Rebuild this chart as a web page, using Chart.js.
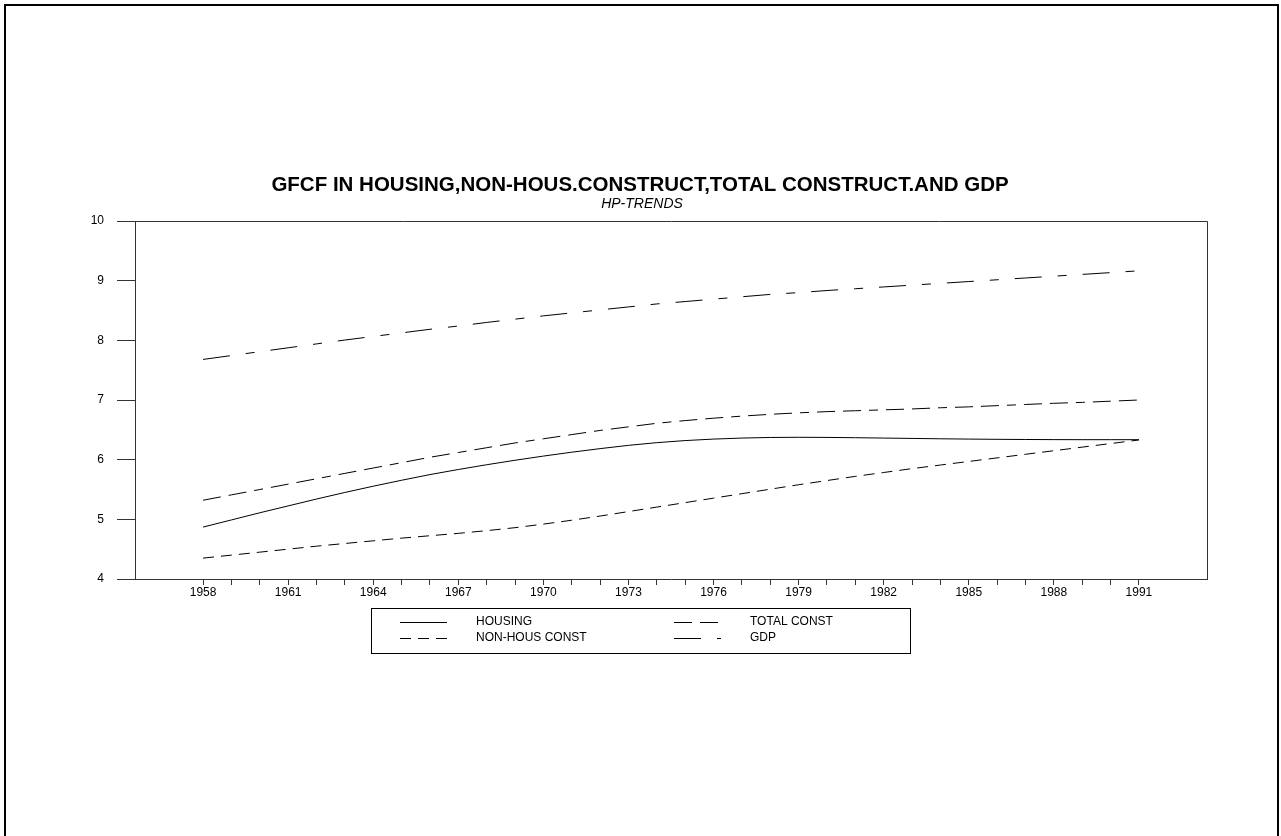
<!DOCTYPE html>
<html lang="en">
<head>
  <meta charset="UTF-8">
  <title>GFCF HP-Trends</title>
  <script src="https://cdn.jsdelivr.net/npm/chart.js"></script>
  <style>
    body { margin: 0; background: #fff; }
    canvas { display: block; }
  </style>
</head>
<body>
  <canvas id="trendChart" width="1281" height="836"></canvas>
  <script>
    const FONT = 'Arial, "Liberation Sans", sans-serif';

    const years = [];
    for (let y = 1958; y <= 1991; y++) years.push(y);

    const housing = [
      4.87, 4.99, 5.11, 5.225, 5.34, 5.45, 5.555, 5.655, 5.75, 5.835,
      5.915, 5.99, 6.06, 6.125, 6.185, 6.24, 6.285, 6.32, 6.345, 6.362,
      6.372, 6.375, 6.373, 6.368, 6.362, 6.356, 6.35, 6.345, 6.341, 6.338,
      6.336, 6.335, 6.335, 6.335
    ];
    const nonHous = [
      4.35, 4.40, 4.45, 4.50, 4.55, 4.595, 4.64, 4.685, 4.725, 4.765,
      4.81, 4.86, 4.92, 4.985, 5.055, 5.13, 5.205, 5.28, 5.355, 5.43,
      5.505, 5.58, 5.65, 5.72, 5.785, 5.85, 5.91, 5.97, 6.03, 6.09,
      6.15, 6.21, 6.27, 6.33
    ];
    const totalConst = [
      5.32, 5.41, 5.50, 5.59, 5.68, 5.77, 5.86, 5.95, 6.04, 6.12,
      6.20, 6.28, 6.35, 6.42, 6.49, 6.55, 6.61, 6.655, 6.695, 6.73,
      6.76, 6.785, 6.805, 6.82, 6.835, 6.85, 6.87, 6.885, 6.905, 6.925,
      6.945, 6.96, 6.98, 7.00
    ];
    const gdp = [
      7.68, 7.745, 7.81, 7.875, 7.94, 8.005, 8.065, 8.125, 8.185, 8.24,
      8.30, 8.355, 8.41, 8.46, 8.51, 8.56, 8.61, 8.65, 8.69, 8.73,
      8.77, 8.80, 8.835, 8.865, 8.895, 8.925, 8.955, 8.985, 9.015, 9.045,
      9.075, 9.105, 9.135, 9.165
    ];

    const seriesNames = ['HOUSING', 'NON-HOUS CONST', 'TOTAL CONST', 'GDP'];
    const seriesValues = [housing, nonHous, totalConst, gdp];
    const seriesDash = [[], [11, 7], [18, 8, 18, 8, 9, 8], [27, 16, 9, 16]];

    const toPoints = vals => vals.map((v, i) => ({ x: years[i], y: v }));

    // frame, outer border, title block and the boxed legend
    const decor = {
      id: 'decor',
      afterDraw(chart) {
        const ctx = chart.ctx;
        const a = chart.chartArea;
        ctx.save();
        ctx.strokeStyle = '#000';
        ctx.lineWidth = 2;
        ctx.strokeRect(5, 5, 1273, 1000);

        ctx.lineWidth = 1;
        ctx.strokeStyle = '#333';
        ctx.beginPath();
        ctx.moveTo(Math.round(a.left) + 0.5, Math.round(a.top) + 0.5);
        ctx.lineTo(Math.round(a.right) + 0.5, Math.round(a.top) + 0.5);
        ctx.lineTo(Math.round(a.right) + 0.5, Math.round(a.bottom) + 0.5);
        ctx.stroke();

        ctx.fillStyle = '#000';
        ctx.textAlign = 'center';
        ctx.textBaseline = 'middle';
        ctx.font = 'bold 20.5px ' + FONT;
        ctx.fillText('GFCF IN HOUSING,NON-HOUS.CONSTRUCT,TOTAL CONSTRUCT.AND GDP', 640, 185);
        ctx.font = 'italic 14px ' + FONT;
        ctx.fillText('HP-TRENDS', 642, 204);

        // legend
        ctx.strokeStyle = '#000';
        ctx.strokeRect(371.5, 608.5, 539, 45);
        const colSample = [400, 674];
        const colText = [476, 750];
        const rowY = [622, 638];
        ctx.font = '12px ' + FONT;
        ctx.textAlign = 'left';
        chart.data.datasets.forEach((ds, i) => {
          const col = Math.floor(i / 2);
          const row = i % 2;
          const y = rowY[row] + 0.5;
          ctx.setLineDash(ds.borderDash);
          ctx.beginPath();
          ctx.moveTo(colSample[col], y);
          ctx.lineTo(colSample[col] + 47, y);
          ctx.stroke();
          ctx.setLineDash([]);
          ctx.fillText(ds.label, colText[col], rowY[row]);
        });
        ctx.restore();
      }
    };

    new Chart(document.getElementById('trendChart'), {
      type: 'line',
      data: {
        datasets: seriesNames.map((name, i) => ({
          label: name,
          data: toPoints(seriesValues[i]),
          borderColor: '#000',
          borderWidth: 1,
          borderDash: seriesDash[i],
          pointRadius: 0,
          tension: 0,
          fill: false
        }))
      },
      options: {
        responsive: false,
        animation: false,
        layout: { padding: { top: 221, right: 74, left: 0, bottom: 0 } },
        plugins: {
          legend: { display: false },
          title: { display: false },
          tooltip: { enabled: false }
        },
        scales: {
          x: {
            type: 'linear',
            min: 1955.6,
            max: 1993.4,
            afterBuildTicks: s => { s.ticks = years.map(v => ({ value: v })); },
            afterFit: s => { s.height = 257; },
            ticks: {
              autoSkip: false,
              maxRotation: 0,
              padding: 0,
              color: '#000',
              font: { family: FONT, size: 12 },
              callback: v => ((v - 1958) % 3 === 0 ? String(v) : '')
            },
            grid: { drawOnChartArea: false, drawTicks: true, tickLength: 6, color: '#333' },
            border: { color: '#333', width: 1 }
          },
          y: {
            min: 4,
            max: 10,
            afterFit: s => { s.width = 135; },
            ticks: {
              stepSize: 1,
              padding: 13,
              color: '#000',
              font: { family: FONT, size: 12 }
            },
            grid: { drawOnChartArea: false, drawTicks: true, tickLength: 18, color: '#333' },
            border: { color: '#333', width: 1 }
          }
        }
      },
      plugins: [decor]
    });
  </script>
</body>
</html>
